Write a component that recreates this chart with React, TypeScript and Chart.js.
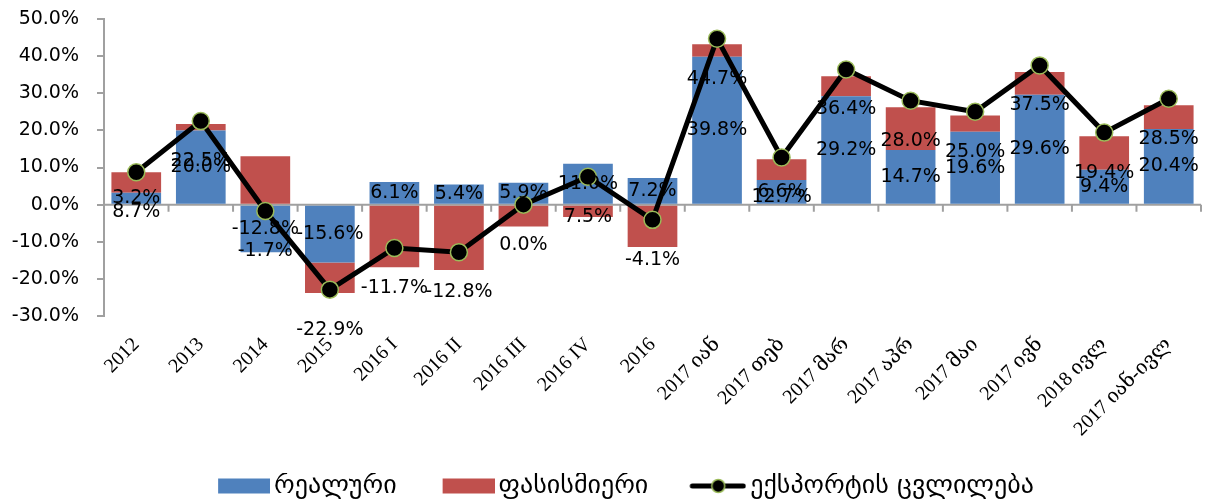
import React, { useEffect, useRef } from 'react';
import { Chart, registerables } from 'chart.js';

Chart.register(...registerables);

const categories = [
  '2012', '2013', '2014', '2015', '2016 I', '2016 II', '2016 III', '2016 IV', '2016',
  '2017 იან', '2017 თებ', '2017 მარ', '2017 აპრ', '2017 მაი', '2017 ივნ', '2018 ივლ', '2017 იან-ივლ',
];
const realValues = [3.2, 20.0, -12.8, -15.6, 6.1, 5.4, 5.9, 11.0, 7.2, 39.8, 6.6, 29.2, 14.7, 19.6, 29.6, 9.4, 20.4];
const priceValues = [5.5, 1.7, 13.0, -8.2, -16.9, -17.6, -5.9, -3.3, -11.4, 3.4, 5.6, 5.4, 11.5, 4.4, 6.1, 9.0, 6.4];
const exportChange = [8.7, 22.5, -1.7, -22.9, -11.7, -12.8, 0.0, 7.5, -4.1, 44.7, 12.7, 36.4, 28.0, 25.0, 37.5, 19.4, 28.5];
const seriesNames = ['რეალური', 'ფასისმიერი', 'ექსპორტის ცვლილება'];
const yMin = -30;
const yMax = 50;
const yStep = 10;

const BLUE = '#4F81BD';
const RED = '#C0504D';
const GREEN = '#9BBB59';
const AXIS = '#A0A0A0';
const NUM_FONT = "'DejaVu Sans', sans-serif";
const NUM_SIZE = 19;
const LEGEND_SIZE = 26;
const POINT_W = 89;

const pct = (v: number) => Number(v).toFixed(1) + '%';

function makeIcon(kind: 'blue' | 'red' | 'line'): HTMLCanvasElement {
  const w = POINT_W + LEGEND_SIZE - 8;
  const h = 20;
  const c = document.createElement('canvas');
  c.width = w;
  c.height = h;
  const ctx = c.getContext('2d')!;
  if (kind === 'line') {
    ctx.strokeStyle = '#000';
    ctx.lineWidth = 5;
    ctx.lineCap = 'round';
    ctx.beginPath();
    ctx.moveTo(w - 54, h / 2);
    ctx.lineTo(w - 3, h / 2);
    ctx.stroke();
    ctx.beginPath();
    ctx.arc(w - 28, h / 2, 6.5, 0, Math.PI * 2);
    ctx.fillStyle = '#000';
    ctx.fill();
    ctx.lineWidth = 1.5;
    ctx.strokeStyle = GREEN;
    ctx.stroke();
  } else {
    ctx.fillStyle = kind === 'blue' ? BLUE : RED;
    ctx.fillRect(w - 52, 2.5, 52, 15);
  }
  return c;
}

const zeroLinePlugin = {
  id: 'zeroLine',
  beforeDatasetsDraw(chart: any) {
    const { ctx, chartArea, scales } = chart;
    const y0 = scales.y.getPixelForValue(0);
    ctx.save();
    ctx.strokeStyle = AXIS;
    ctx.lineWidth = 2;
    ctx.beginPath();
    ctx.moveTo(chartArea.left, y0);
    ctx.lineTo(chartArea.right, y0);
    for (let i = 1; i <= categories.length; i++) {
      const bx = scales.x.getPixelForValue(i - 0.5);
      ctx.moveTo(bx, y0);
      ctx.lineTo(bx, y0 + 7);
    }
    ctx.stroke();
    ctx.restore();
  },
};

const legendShiftPlugin = {
  id: 'legendShift',
  afterLayout(chart: any) {
    const lg = chart.legend;
    if (lg) {
      lg.top += 8;
      lg.bottom += 8;
    }
  },
};

const valueLabelsPlugin = {
  id: 'valueLabels',
  afterDatasetsDraw(chart: any) {
    const ctx = chart.ctx;
    ctx.save();
    ctx.font = `${NUM_SIZE}px ${NUM_FONT}`;
    ctx.fillStyle = '#000';
    ctx.textAlign = 'center';
    ctx.textBaseline = 'middle';
    const realMeta = chart.getDatasetMeta(0);
    realMeta.data.forEach((el: any, i: number) => {
      const p = el.getProps(['x', 'y', 'base'], true);
      ctx.fillText(pct(realValues[i]), p.x, (p.y + p.base) / 2);
    });
    const lineMeta = chart.getDatasetMeta(2);
    lineMeta.data.forEach((el: any, i: number) => {
      ctx.fillText(pct(exportChange[i]), el.x, el.y + 40);
    });
    ctx.restore();
  },
};

export default function App() {
  const canvasRef = useRef<HTMLCanvasElement | null>(null);

  useEffect(() => {
    if (!canvasRef.current) return;
    const icons = [makeIcon('blue'), makeIcon('red'), makeIcon('line')];
    const chart = new Chart(canvasRef.current, {
      type: 'bar',
      data: {
        labels: categories,
        datasets: [
          {
            type: 'bar',
            label: seriesNames[0],
            data: realValues,
            backgroundColor: BLUE,
            stack: 'bars',
            order: 1,
            barPercentage: 0.77,
            categoryPercentage: 1.0,
          },
          {
            type: 'bar',
            label: seriesNames[1],
            data: priceValues,
            backgroundColor: RED,
            stack: 'bars',
            order: 1,
            barPercentage: 0.77,
            categoryPercentage: 1.0,
          },
          {
            type: 'line',
            label: seriesNames[2],
            data: exportChange,
            borderColor: '#000',
            borderWidth: 5,
            pointRadius: 8.5,
            pointBorderWidth: 1.5,
            pointBorderColor: GREEN,
            pointBackgroundColor: '#000',
            tension: 0,
            stack: 'line',
            order: 0,
            clip: false,
          } as any,
        ],
      },
      options: {
        responsive: false,
        animation: false,
        events: [],
        layout: { padding: { top: 19, right: 5, left: 0, bottom: 0 } },
        scales: {
          x: {
            stacked: true,
            grid: { display: false, drawTicks: false },
            border: { display: false },
            ticks: {
              autoSkip: false,
              maxRotation: 45,
              minRotation: 45,
              padding: 17,
              color: '#000',
              font: { family: "'Liberation Serif', 'DejaVu Serif', serif", size: 20 },
            },
            afterFit: (s: any) => {
              s.height = 149;
            },
          },
          y: {
            stacked: true,
            min: yMin,
            max: yMax,
            ticks: {
              stepSize: yStep,
              callback: (v: any) => pct(v),
              color: '#000',
              padding: 18,
              font: { family: NUM_FONT, size: NUM_SIZE },
            },
            grid: { drawOnChartArea: false, drawTicks: true, tickLength: 7, color: AXIS, lineWidth: 2 },
            border: { color: AXIS, width: 2 },
            afterFit: (s: any) => {
              s.width = 104;
              s.paddingTop = 10;
              s.paddingBottom = 10;
            },
          },
        },
        plugins: {
          tooltip: { enabled: false },
          legend: {
            position: 'bottom',
            labels: {
              usePointStyle: true,
              pointStyleWidth: POINT_W,
              padding: 0,
              color: '#000',
              font: { family: NUM_FONT, size: LEGEND_SIZE },
              generateLabels: () =>
                seriesNames.map((t, i) => ({
                  text: t,
                  pointStyle: icons[i] as any,
                  fillStyle: 'transparent',
                  strokeStyle: 'transparent',
                  lineWidth: 0,
                  hidden: false,
                  datasetIndex: i,
                })),
            },
          },
        },
      },
      plugins: [zeroLinePlugin, legendShiftPlugin, valueLabelsPlugin],
    });
    return () => chart.destroy();
  }, []);

  return (
    <div style={{ position: 'fixed', left: 0, top: 0, width: 1211, height: 501, background: '#fff' }}>
      <canvas ref={canvasRef} width={1211} height={501} style={{ display: 'block' }} />
    </div>
  );
}
